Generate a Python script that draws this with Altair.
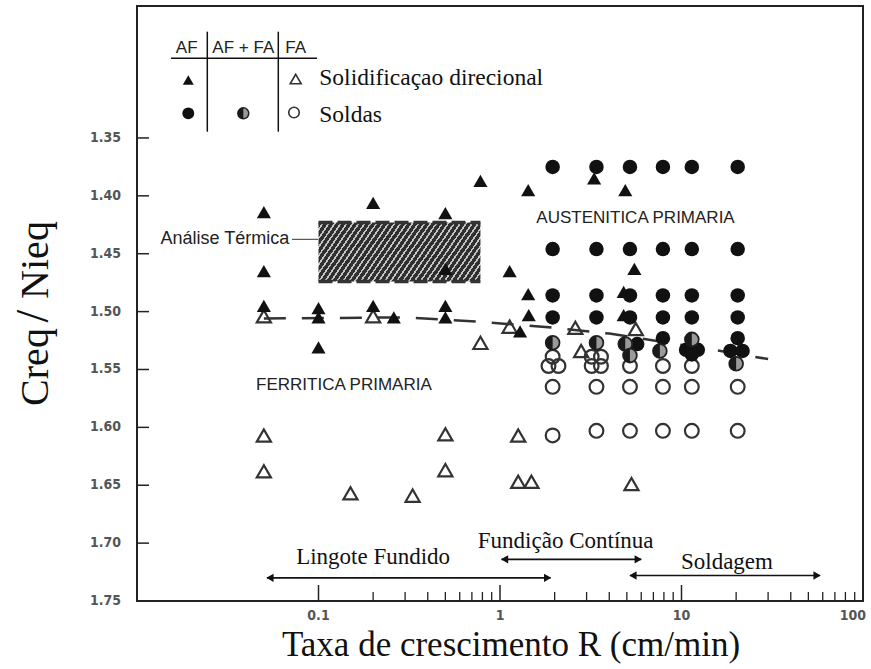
import altair as alt
import pandas as pd

# ---------------- data ----------------
# Directional solidification: primary austenite (AF), filled triangles
ds_af_rate = [0.05, 0.05, 0.05, 0.1, 0.1, 0.1, 0.2, 0.2, 0.26, 0.5, 0.5, 0.5, 0.5,
              0.78, 1.13, 1.29, 1.43, 1.43, 1.44, 3.3, 4.9, 5.5, 4.8, 4.8]
ds_af_ratio = [1.414, 1.465, 1.495, 1.497, 1.505, 1.531, 1.406, 1.495, 1.505, 1.415, 1.463, 1.495, 1.505,
               1.387, 1.465, 1.517, 1.395, 1.485, 1.503, 1.385, 1.395, 1.463, 1.483, 1.503]

# Directional solidification: primary ferrite (FA), open triangles
ds_fa_rate = [0.05, 0.2, 0.05, 0.05, 0.15, 0.33, 0.5, 0.5, 0.78, 1.13, 2.6, 5.6, 2.8,
              1.26, 1.26, 1.49, 5.3]
ds_fa_ratio = [1.504, 1.504, 1.607, 1.638, 1.657, 1.659, 1.606, 1.637, 1.527, 1.513, 1.514, 1.515, 1.534,
               1.607, 1.647, 1.647, 1.649]

# Welds: AF (filled circles)
weld_af_rate = [1.95, 3.4, 5.2, 7.9, 11.4, 20.4,
                1.95, 3.4, 5.2, 7.9, 11.4, 20.4,
                1.95, 3.4, 5.2, 7.9, 11.4, 20.4,
                1.95, 3.4, 5.2, 7.9, 11.4, 20.4,
                5.7, 7.9, 10.6, 12.3, 11.4, 20.4, 18.6, 21.7]
weld_af_ratio = [1.375, 1.375, 1.375, 1.375, 1.375, 1.375,
                 1.446, 1.446, 1.446, 1.446, 1.446, 1.446,
                 1.486, 1.486, 1.486, 1.486, 1.486, 1.486,
                 1.505, 1.505, 1.505, 1.505, 1.505, 1.505,
                 1.528, 1.523, 1.533, 1.533, 1.537, 1.523, 1.534, 1.534]

# Welds: AF + FA (half-filled circles)
weld_mix_rate = [1.95, 3.4, 4.9, 5.2, 7.6, 11.4, 20.0]
weld_mix_ratio = [1.527, 1.527, 1.528, 1.538, 1.534, 1.524, 1.545]

# Welds: FA (open circles)
weld_fa_rate = [1.95, 1.85, 2.1, 3.2, 3.6, 3.2, 3.6, 5.2, 7.9, 11.4,
                1.95, 3.4, 5.2, 7.9, 11.4, 20.4,
                1.95, 3.4, 5.2, 7.9, 11.4, 20.4]
weld_fa_ratio = [1.539, 1.547, 1.547, 1.539, 1.539, 1.547, 1.547, 1.547, 1.547, 1.547,
                 1.565, 1.565, 1.565, 1.565, 1.565, 1.565,
                 1.607, 1.603, 1.603, 1.603, 1.603, 1.603]

# AF / FA boundary (dashed)
boundary_rate = [0.05, 0.3, 0.8, 2.0, 4.0, 15.0, 30.0]
boundary_ratio = [1.506, 1.505, 1.509, 1.514, 1.519, 1.533, 1.541]

# Thermal-analysis band
thermal_rate = [0.1, 0.78]
thermal_ratio = [1.423, 1.474]

# Process ranges
range_names = ["Lingote Fundido", "Fundição Contínua", "Soldagem"]
range_start = [0.052, 1.02, 5.2]
range_end = [1.9, 6.0, 58.0]
range_arrow_ratio = [1.730, 1.714, 1.728]
range_label_rate = [0.2, 2.3, 17.8]
range_label_ratio = [1.718, 1.704, 1.722]

# Region labels
region_names = ["AUSTENITICA PRIMARIA", "FERRITICA PRIMARIA"]
region_rate = [5.58, 0.138]
region_ratio = [1.4195, 1.5636]

thermal_label = ["Análise Térmica"]
thermal_label_rate = [0.069]
thermal_label_ratio = [1.4376]
thermal_leader_rate = [0.0714, 0.1]

# Axis ticks and labels
x_label_values = [0.1, 1, 10]
x_label_text = ["0.1", "1", "10"]
x_end_value = [100]
x_end_text = ["100"]
y_label_values = [1.35, 1.40, 1.45, 1.50, 1.55, 1.60, 1.65, 1.70, 1.75]
y_label_text = ["1.35", "1.40", "1.45", "1.50", "1.55", "1.60", "1.65", "1.70", "1.75"]
x_major_ticks = [0.1, 1, 10]
x_minor_ticks = [0.2, 0.3, 0.4, 0.5, 0.6, 0.7, 0.8, 0.9,
                 2, 3, 4, 5, 6, 7, 8, 9,
                 20, 30, 40, 50, 60, 70, 80, 90]
y_ticks = [1.35, 1.40, 1.45, 1.50, 1.55, 1.60, 1.65, 1.70]

x_title = "Taxa de crescimento R (cm/min)"
y_title_parts = ["Creq", "/", "Nieq"]

legend_headers = ["AF", "AF + FA", "FA"]
legend_rows = ["Solidificaçao direcional", "Soldas"]

# ---------------- styling ----------------
W, H = 726, 595
INK = "#111111"
TICK_FONT = "DejaVu Sans Condensed, Roboto Condensed, Liberation Sans Narrow, Roboto, sans-serif"
SERIF = "Liberation Serif, Times New Roman, Tinos, Nimbus Roman, FreeSerif, DejaVu Serif, serif"
SANS = "Liberation Sans, Arial, sans-serif"

xs = alt.Scale(type="log", domain=[0.01, 100], nice=False)
ys = alt.Scale(domain=[1.236, 1.75], reverse=True, nice=False, zero=False)


def X(field):
    return alt.X(field, type="quantitative", scale=xs, axis=None)


def Y(field):
    return alt.Y(field, type="quantitative", scale=ys, axis=None)


def pts(rate, ratio):
    return pd.DataFrame({"rate": rate, "ratio": ratio})


def one():
    return pd.DataFrame({"k": [0]})


HALF_LEFT = "M0,-1A1,1,0,0,0,0,1Z"

# hatch texture for the thermal-analysis band (striped linear gradient)
n_stripes = 34
stops = []
for i in range(n_stripes):
    a = i / n_stripes
    b = (i + 0.68) / n_stripes
    c = (i + 1) / n_stripes
    stops += [alt.GradientStop(offset=a, color="#303030"),
              alt.GradientStop(offset=b, color="#303030"),
              alt.GradientStop(offset=b, color="#c4c4c4"),
              alt.GradientStop(offset=c, color="#c4c4c4")]
hatch = alt.LinearGradient(gradient="linear", stops=stops, x1=0, y1=0, x2=1.18, y2=0.295)

layers = []

# thermal-analysis band
band_df = pd.DataFrame({"r0": [thermal_rate[0]], "r1": [thermal_rate[1]],
                        "y0": [thermal_ratio[0]], "y1": [thermal_ratio[1]]})
layers.append(alt.Chart(band_df).mark_rect(fill=hatch).encode(
    x=X("r0"), x2="r1", y=Y("y0"), y2="y1"))
edge_df = pd.DataFrame({"r0": [thermal_rate[0]] * 2, "r1": [thermal_rate[1]] * 2,
                        "y": thermal_ratio})
layers.append(alt.Chart(edge_df).mark_rule(color="#333333", strokeWidth=3.5,
                                           strokeDash=[14, 5]).encode(
    x=X("r0"), x2="r1", y=Y("y")))

# leader line and label
layers.append(alt.Chart(pd.DataFrame({"r0": [thermal_leader_rate[0]], "r1": [thermal_leader_rate[1]],
                                      "y": thermal_label_ratio})).mark_rule(
    color="#555555", strokeWidth=1.2).encode(x=X("r0"), x2="r1", y=Y("y")))
layers.append(alt.Chart(pd.DataFrame({"rate": thermal_label_rate, "ratio": thermal_label_ratio,
                                      "t": thermal_label})).mark_text(
    font=SANS, fontSize=18, color="#222222", align="right", baseline="middle").encode(
    x=X("rate"), y=Y("ratio"), text="t:N"))

# AF / FA boundary
layers.append(alt.Chart(pts(boundary_rate, boundary_ratio)).mark_line(
    color="#333333", strokeWidth=2.5, strokeDash=[22, 16]).encode(
    x=X("rate"), y=Y("ratio")))

# data markers
layers.append(alt.Chart(pts(ds_fa_rate, ds_fa_ratio)).mark_point(
    shape="triangle-up", size=200, filled=False, color="#333333", strokeWidth=2.2, opacity=1).encode(
    x=X("rate"), y=Y("ratio")))
layers.append(alt.Chart(pts(weld_fa_rate, weld_fa_ratio)).mark_point(
    shape="circle", size=190, filled=False, color="#333333", strokeWidth=2.2, opacity=1).encode(
    x=X("rate"), y=Y("ratio")))
layers.append(alt.Chart(pts(ds_af_rate, ds_af_ratio)).mark_point(
    shape="triangle-up", size=200, filled=True, color=INK, opacity=1).encode(
    x=X("rate"), y=Y("ratio")))
layers.append(alt.Chart(pts(weld_af_rate, weld_af_ratio)).mark_point(
    shape="circle", size=210, filled=True, color=INK, opacity=1).encode(
    x=X("rate"), y=Y("ratio")))
layers.append(alt.Chart(pts(weld_mix_rate, weld_mix_ratio)).mark_point(
    shape="circle", size=190, filled=True, fill="#9a9a9a", stroke="#222222",
    strokeWidth=1.8, opacity=1).encode(x=X("rate"), y=Y("ratio")))
layers.append(alt.Chart(pts(weld_mix_rate, weld_mix_ratio)).mark_point(
    shape=HALF_LEFT, size=190, filled=True, color="#1a1a1a", opacity=1).encode(
    x=X("rate"), y=Y("ratio")))

# region labels
layers.append(alt.Chart(pd.DataFrame({"rate": region_rate, "ratio": region_ratio,
                                      "t": region_names})).mark_text(
    font=SANS, fontSize=17, color="#222222", align="center", baseline="middle").encode(
    x=X("rate"), y=Y("ratio"), text="t:N"))

# process ranges: double-headed arrows with labels
rng = pd.DataFrame({"start": range_start, "end": range_end, "y": range_arrow_ratio,
                    "lr": range_label_rate, "ly": range_label_ratio, "name": range_names})
layers.append(alt.Chart(rng).mark_rule(color=INK, strokeWidth=1.6).encode(
    x=X("start"), x2="end", y=Y("y")))
layers.append(alt.Chart(rng).mark_point(shape="triangle-left", size=70, filled=True,
                                        color=INK, opacity=1, xOffset=3).encode(
    x=X("start"), y=Y("y")))
layers.append(alt.Chart(rng).mark_point(shape="triangle-right", size=70, filled=True,
                                        color=INK, opacity=1, xOffset=-3).encode(
    x=X("end"), y=Y("y")))
layers.append(alt.Chart(rng).mark_text(font=SERIF, fontSize=23, color=INK,
                                       align="center", baseline="alphabetic").encode(
    x=X("lr"), y=Y("ly"), text="name:N"))

# inward ticks
layers.append(alt.Chart(pd.DataFrame({"v": x_major_ticks})).mark_rule(
    color="#222222", strokeWidth=1.5).encode(x=X("v"), y=alt.value(H), y2=alt.value(H - 16)))
layers.append(alt.Chart(pd.DataFrame({"v": x_minor_ticks})).mark_rule(
    color="#222222", strokeWidth=1.3).encode(x=X("v"), y=alt.value(H), y2=alt.value(H - 9)))
layers.append(alt.Chart(pd.DataFrame({"v": y_ticks})).mark_rule(
    color="#222222", strokeWidth=1.5).encode(y=Y("v"), x=alt.value(0), x2=alt.value(12)))

# tick labels
layers.append(alt.Chart(pd.DataFrame({"v": x_label_values, "t": x_label_text})).mark_text(
    font=TICK_FONT, fontSize=14, fontWeight="bold", color="#555555",
    align="center", baseline="middle").encode(x=X("v"), y=alt.value(H + 15), text="t:N"))
layers.append(alt.Chart(pd.DataFrame({"v": x_end_value, "t": x_end_text})).mark_text(
    font=TICK_FONT, fontSize=14, fontWeight="bold", color="#555555",
    align="right", baseline="middle", dx=3).encode(x=X("v"), y=alt.value(H + 15), text="t:N"))
layers.append(alt.Chart(pd.DataFrame({"v": y_label_values, "t": y_label_text})).mark_text(
    font=TICK_FONT, fontSize=14, fontWeight="bold", color="#555555",
    align="right", baseline="middle").encode(y=Y("v"), x=alt.value(-16), text="t:N"))

# axis titles
layers.append(alt.Chart(pd.DataFrame({"t": [x_title]})).mark_text(
    font=SERIF, fontSize=35, color=INK, align="center", baseline="alphabetic").encode(
    x=alt.value(374), y=alt.value(650), text="t:N"))
for part, py, fs in zip(y_title_parts, [361, 310, 254], [40, 46, 40]):
    layers.append(alt.Chart(pd.DataFrame({"t": [part]})).mark_text(
        font=SERIF, fontSize=fs, color=INK, align="center", baseline="alphabetic", angle=270).encode(
        x=alt.value(-89), y=alt.value(py), text="t:N"))

# legend table
for hdr, px in zip(legend_headers, [49.7, 106.3, 158.7]):
    layers.append(alt.Chart(pd.DataFrame({"t": [hdr]})).mark_text(
        font=SANS, fontSize=17, color="#222222", align="center", baseline="alphabetic").encode(
        x=alt.value(px), y=alt.value(47), text="t:N"))
layers.append(alt.Chart(one()).mark_rule(color=INK, strokeWidth=1.5).encode(
    x=alt.value(34), x2=alt.value(180), y=alt.value(52.3)))
for px in [70.3, 141.3]:
    layers.append(alt.Chart(one()).mark_rule(color=INK, strokeWidth=1.5).encode(
        x=alt.value(px), y=alt.value(25.7), y2=alt.value(125.7)))
layers.append(alt.Chart(one()).mark_point(
    shape="triangle-up", size=120, filled=True, color=INK, opacity=1).encode(
    x=alt.value(51.3), y=alt.value(74)))
layers.append(alt.Chart(one()).mark_point(
    shape="circle", size=140, filled=True, color=INK, opacity=1).encode(
    x=alt.value(51.3), y=alt.value(107.3)))
layers.append(alt.Chart(one()).mark_point(
    shape="circle", size=120, filled=True, fill="#9a9a9a", stroke="#222222",
    strokeWidth=1.5, opacity=1).encode(x=alt.value(106.3), y=alt.value(107.3)))
layers.append(alt.Chart(one()).mark_point(
    shape=HALF_LEFT, size=120, filled=True, color="#1a1a1a", opacity=1).encode(
    x=alt.value(106.3), y=alt.value(107.3)))
layers.append(alt.Chart(one()).mark_point(
    shape="triangle-up", size=120, filled=False, color="#333333", strokeWidth=1.6,
    opacity=1).encode(x=alt.value(158.7), y=alt.value(73)))
layers.append(alt.Chart(one()).mark_point(
    shape="circle", size=110, filled=False, color="#333333", strokeWidth=1.6,
    opacity=1).encode(x=alt.value(157), y=alt.value(106.5)))
for row, py in zip(legend_rows, [79, 115.7]):
    layers.append(alt.Chart(pd.DataFrame({"t": [row]})).mark_text(
        font=SERIF, fontSize=23.5, color=INK, align="left", baseline="alphabetic").encode(
        x=alt.value(182.3), y=alt.value(py), text="t:N"))

chart = alt.layer(*layers).properties(
    width=W, height=H,
    autosize=alt.AutoSizeParams(type="none"),
    padding={"left": 137, "top": 6, "right": 8, "bottom": 68},
    background="white",
).configure_view(stroke="#222222", strokeWidth=2)

chart.save("out.html", embed_options={"renderer": "svg", "actions": False})
